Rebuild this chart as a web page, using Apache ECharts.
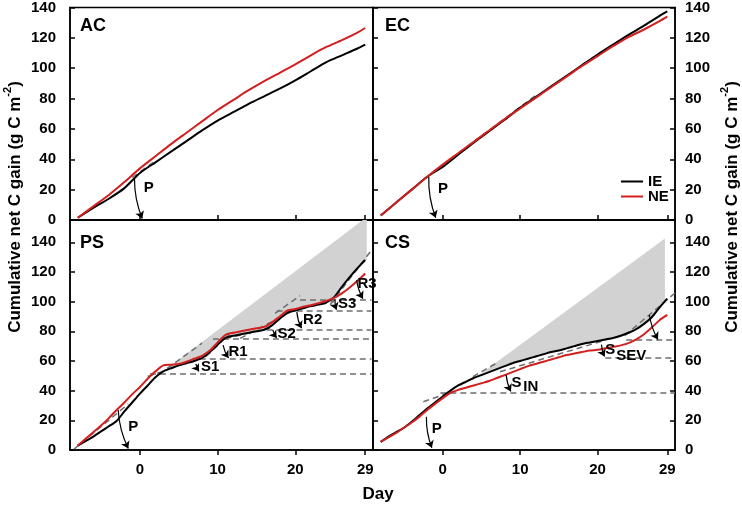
<!DOCTYPE html>
<html>
<head>
<meta charset="utf-8">
<script src="https://cdn.jsdelivr.net/npm/echarts@6/dist/echarts.min.js"></script>
<style>html,body{margin:0;padding:0;background:#fff}#c{width:742px;height:509px}</style>
</head>
<body>
<div id="c"></div>
<script>
// ---------- data ----------
const topDays = [-8,-6,-4,-2,0,2,4,6,8,10,12,14,16,18,20,22,24,26,28,29];
const acIE = [1.5,8,14,21,31,38,45,52,59,65.5,71,76.5,81.5,86.5,92,98,104,108.5,113,115.5];
const acNE = [1.5,9,16.5,25,34,42,50,57.5,65,72.5,79,85.5,91.5,97,102.5,108.5,114,118.5,123.5,126.5];
const ecIE = [3,11.5,20,28.5,35,43,51,58.5,66,74,81,88,95,102,109,115.5,122,128,134.5,137.5];
const ecNE = [3,11.5,20,28.5,36.5,44,51.5,59,66.5,73.5,80.5,87.5,94.5,101.5,108,114.5,120.5,125.5,131,134];

const bottomDays = [-8,-7,-6,-5,-4,-3,-2,-1,0,1,2,3,4,5,6,7,8,9,10,11,12,13,14,15,16,17,18,19,20,21,22,23,24,25,26,27,28,29];
const psIE = [3,6,9,12.5,16,19.5,26,32,38,43.5,49,53,55,57,58.5,60,62,66,71,75.5,77,78,79,80,81,84,88.5,92.5,94,95.5,97,98,99.5,103,110,116.5,122.5,128];
const psNE = [3,7.5,12,16.5,21.5,27,32,37.5,42.5,48,53,57,57.5,58,59.5,61.5,63.5,67,72.5,77.5,79,80,81,82,83,86,90,94,95,96.5,97.5,99,100.5,102.5,105.5,109.5,114,119];
const csIE = [5.5,9,12,15,19,23.5,28,32,36,40,43.5,46,48.5,50.5,52.5,54.5,56.5,58.5,60,61.5,63,64.5,66,67,68.5,70,71.5,72.5,73.5,74.5,75.5,77,79,81.5,85,89.5,96,102];
const csNE = [5.5,8.5,11.5,15,18.5,22.5,27,31,35,38.5,40.5,42,43.5,45,46.5,48.5,50.5,52.5,54.5,56.5,58,59.5,61,62.5,64,65,66,67,67.5,68.5,69.5,70.5,72,74.5,78,82.5,87.5,91];

// upper (unstressed extrapolation) lines bounding the grey areas: [day, value]
const psUpper = [[3.5,55],[29.2,157]];
const csUpper = [[4.3,49],[28.7,142.5]];

// dashed reference lines [d1, v1, d2, v2]
const psDashed = [
  [1.3,51.6,29.8,51.6],[7.7,61.3,29.8,61.3],[9.4,75.2,29.8,75.2],
  [16.3,81.3,29.8,81.3],[17.6,93.6,29.8,93.6],[20.6,101,29.8,101],
  [-8.5,0.5,-1.5,31],[1,49.5,3.5,54],[3.5,55,8,72],[3.5,54.5,8.5,63],
  [8.5,63,11.5,78],[12.9,75.2,20.2,95.4],[11,75,17,82.5],[17.4,92,20.6,104],
  [19.5,94,25,100],[24.5,98,29.8,134.7]
];
const csDashed = [
  [-0.3,38.6,30,38.6],[21,62.2,30,62.2],[23.7,74,30,74],
  [-2.5,32.5,1.3,39.3],[3.9,49.4,6.9,58.4],[7.4,52.7,24.6,79.7],[23.5,77,30.5,108]
];
const ecDashed = [[2,44,12,82]];
const acDashed = [[-1,28,2,39]];

// arrows [d1, v1, d2, v2]
const acArrows = [[-0.7,27.4,0.3,1]];
const ecArrows = [[-1.8,28.5,-0.9,1.5]];
const psArrows = [[-2.8,27,-1.5,1],[7.2,58,7.6,53],[10.7,70.7,11.4,62],[17.1,81,17.6,75.5],
                  [20.2,93,20.8,82],[25.1,101.5,25.3,94.5],[27.9,114.5,28.7,102]];
const csArrows = [[-2.1,22.4,-1.4,1.5],[8.2,50.5,8.8,39.5],[20.5,71,20.9,63],[26.7,91,27.8,74.5]];

// text annotations [day, value, text]
const acNotes = [[0.5,21,'P']];
const ecNotes = [[-0.6,20.8,'P']];
const psNotes = [[-1.5,15.7,'P'],[7.85,56,'S1'],[11.4,66.2,'R1'],[17.7,78,'S2'],[21,87.5,'R2'],[25.5,98.3,'S3'],[28,111.8,'R3']];
const csNotes = [[-1.4,14,'P'],[8.9,45.3,'S'],[10.4,42.3,'IN'],[21.0,67.5,'S'],[22.4,63.5,'SEV']];

const xTicks = [0,10,20,29];
const yTicksBottom = [0,20,40,60,80,100,120,140];
const panelNames = ['AC','EC','PS','CS'];

// ---------- chart ----------
const FONT = 'Liberation Sans, Arial, sans-serif';
const RED = '#d21f1f';
const chart = echarts.init(document.getElementById('c'));

const grids = [
  {left:70, top:7, width:303, height:213},
  {left:373, top:7, width:302, height:213},
  {left:70, top:220, width:303, height:230},
  {left:373, top:220, width:302, height:230}
].map(g => Object.assign(g, {show:true, borderColor:'#000', borderWidth:1.5, containLabel:false}));

const axLine = {show:true, onZero:false, lineStyle:{color:'#000', width:1.5}};
const xAxes = [0,1,2,3].map(i => ({
  gridIndex:i, type:'value', min:-9, max:30,
  axisLine:axLine,
  axisTick:{show:true, inside:i<2, length:5, customValues:xTicks, lineStyle:{color:'#000', width:1.5}},
  axisLabel:{show:i>=2, customValues:xTicks, margin:12, fontSize:15, fontWeight:'bold', color:'#000', fontFamily:FONT},
  splitLine:{show:false}
}));

function yAx(i, pos, showLabel) {
  const top = i < 2;
  return {
    gridIndex:i, type:'value', position:pos, min:0, max: top ? 140 : 155,
    interval: top ? 20 : undefined,
    axisLine:axLine,
    axisTick:{show:true, inside:true, length:5, lineStyle:{color:'#000', width:1.5}, customValues: top ? undefined : yTicksBottom},
    axisLabel:{show:showLabel, margin: pos==='left' ? 14 : 10, fontSize:15, fontWeight:'bold', color:'#000', fontFamily:FONT,
               customValues: top ? undefined : yTicksBottom},
    splitLine:{show:false}
  };
}
const yAxes = [
  yAx(0,'left',true),            // 0
  yAx(1,'left',false),           // 1
  yAx(1,'right',true),           // 2
  yAx(2,'left',true),            // 3
  yAx(3,'left',false),           // 4
  yAx(3,'right',true)            // 5
];
const yIdx = [0,1,3,4];

const pairs = (xs, ys) => xs.map((d,i) => [d, ys[i]]);

const series = [];

function shade(g, upper, days, ie) {
  series.push({
    type:'custom', xAxisIndex:g, yAxisIndex:yIdx[g], clip:true, z:1, silent:true,
    data:[[0,0]],
    renderItem:(params, api) => {
      const pts = [];
      pts.push(api.coord(upper[0]));
      pts.push(api.coord(upper[1]));
      pts.push(api.coord([upper[1][0], ie[ie.length-1]]));
      for (let k = days.length-1; k >= 0; k--) {
        if (days[k] > upper[0][0]) pts.push(api.coord([days[k], ie[k]]));
      }
      return {type:'polygon', shape:{points:pts}, style:{fill:'#d2d2d2', stroke:null}};
    }
  });
}
shade(2, psUpper, bottomDays, psIE);
shade(3, csUpper, bottomDays, csIE);

function dashed(g, segs) {
  series.push({
    type:'lines', coordinateSystem:'cartesian2d', xAxisIndex:g, yAxisIndex:yIdx[g], z:2, silent:true,
    symbol:'none',
    lineStyle:{color:'#6e6e6e', width:1.5, type:[6,4], opacity:1},
    data: segs.map(s => ({coords:[[s[0],s[1]],[s[2],s[3]]]}))
  });
}
dashed(0, acDashed); dashed(1, ecDashed); dashed(2, psDashed); dashed(3, csDashed);

function curves(g, days, ie, ne) {
  series.push({name:'IE', type:'line', xAxisIndex:g, yAxisIndex:yIdx[g], data:pairs(days, ie), showSymbol:false, smooth:0.25,
    lineStyle:{color:'#000', width:2}, itemStyle:{color:'#000'}, z:3});
  series.push({name:'NE', type:'line', xAxisIndex:g, yAxisIndex:yIdx[g], data:pairs(days, ne), showSymbol:false, smooth:0.25,
    lineStyle:{color:RED, width:2}, itemStyle:{color:RED}, z:4});
}
curves(0, topDays, acIE, acNE);
curves(1, topDays, ecIE, ecNE);
curves(2, bottomDays, psIE, psNE);
curves(3, bottomDays, csIE, csNE);

function arrows(g, segs) {
  series.push({
    type:'lines', coordinateSystem:'cartesian2d', xAxisIndex:g, yAxisIndex:yIdx[g], z:5, silent:true,
    symbol:['none','arrow'], symbolSize:7,
    lineStyle:{color:'#000', width:1.2, curveness:-0.1, opacity:1},
    data: segs.map(s => ({coords:[[s[0],s[1]],[s[2],s[3]]]}))
  });
}
arrows(0, acArrows); arrows(1, ecArrows); arrows(2, psArrows); arrows(3, csArrows);

function notes(g, list) {
  series.push({
    type:'scatter', xAxisIndex:g, yAxisIndex:yIdx[g], symbolSize:0, z:6, silent:true,
    itemStyle:{opacity:1},
    data: list.map(n => ({value:[n[0], n[1]], name:n[2]})),
    label:{show:true, position:'right', distance:0, formatter:'{b}', color:'#000', opacity:1, fontSize:15, fontWeight:'bold', fontFamily:FONT}
  });
}
notes(0, acNotes); notes(1, ecNotes); notes(2, psNotes); notes(3, csNotes);

const panelPos = [[80,17],[385,17],[80,234],[385,234]];
const graphic = panelNames.map((t,i) => ({
  type:'text', x:panelPos[i][0], y:panelPos[i][1], z:10,
  style:{text:t, fill:'#000', font:'bold 18px ' + FONT, verticalAlign:'top', align:'left'}
}));
const ttl = '{a|Cumulative net C gain (g C m}{b|-2}{a|)}';
const rich = {a:{fontSize:17, fontWeight:'bold', fontFamily:FONT, fill:'#000', color:'#000', lineHeight:22, verticalAlign:'bottom'},
              b:{fontSize:11, fontWeight:'bold', fontFamily:FONT, fill:'#000', color:'#000', lineHeight:22, verticalAlign:'top'}};
graphic.push({type:'text', x:13, y:207, rotation:Math.PI/2, z:10,
  style:{text:ttl, rich:rich, align:'center', verticalAlign:'middle'}});
graphic.push({type:'text', x:730, y:207, rotation:Math.PI/2, z:10,
  style:{text:ttl, rich:rich, align:'center', verticalAlign:'middle'}});
graphic.push({type:'text', x:378, y:494, z:10,
  style:{text:'Day', fill:'#000', font:'bold 17px ' + FONT, align:'center', verticalAlign:'middle'}});

chart.setOption({
  animation:false,
  backgroundColor:'#fff',
  grid:grids,
  xAxis:xAxes,
  yAxis:yAxes,
  legend:{data:['IE','NE'], orient:'vertical', left:616, top:169, itemGap:0, itemWidth:22, itemHeight:2, icon:'rect',
          textStyle:{color:'#000', fontSize:15, fontWeight:'bold', fontFamily:FONT}, selectedMode:false},
  graphic:graphic,
  series:series
});
</script>
</body>
</html>
